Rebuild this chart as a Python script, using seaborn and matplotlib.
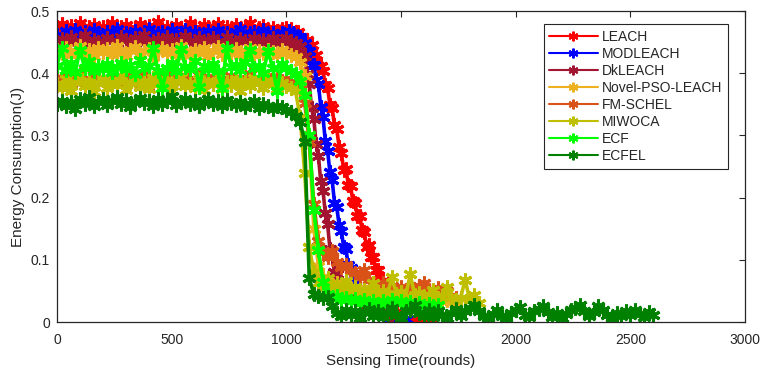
import numpy as np
import pandas as pd
import matplotlib
matplotlib.use("Agg")
import matplotlib.pyplot as plt
import seaborn as sns

# ---------------- data (energy in mJ) ----------------
# plateau: every 20 rounds from round 0; drop: every 10 rounds from round 1000;
# tail: every 20 rounds from round 1500 (for series that have a drop segment)
series_names = ["LEACH", "MODLEACH", "DkLEACH", "Novel-PSO-LEACH",
                "FM-SCHEL", "MIWOCA", "ECF", "ECFEL"]
series_colors = ["#FF0000", "#0000FF", "#A2142F", "#EDB120",
                 "#D95319", "#BFBF00", "#00FF00", "#008000"]

leach_plateau = [473,479,468,476,470,481,467,474,478,466,475,471,480,469,474,477,465,472,479,470,
                 476,468,482,471,474,467,478,473,469,480,472,466,477,474,470,479,468,475,471,477,
                 469,474,480,466,473,476,470,472,468,471]
leach_drop = [472,463,471,459,464,467,454,458,446,453,442,445,428,430,411,411,403,381,377,349,
              344,316,310,282,272,245,246,221,218,195,191,170,171,148,145,121,124,104,104,83,
              83,64,66,49,49,30,28,15,13,5]
leach_tail = [6,4,3,5,3,4,3,4]

modleach_plateau = [462,458,468,463,470,457,466,461,469,464,459,467,462,471,458,465,463,468,460,466,
                    471,459,464,467,462,469,457,465,470,461,466,463,459,468,464,470,460,465,462,467,
                    471,458,464,466,461,469,463,465,460,464]
modleach_drop = [459,468,459,464,451,458,459,443,448,435,436,413,413,389,383,346,329,291,275,241,
                 228,192,185,156,147,120,117,92,87,65,66,51,52,37,39,28,32,22,25,17,
                 21,14,17,10,13,8,11,6,9,5]
modleach_tail = [6,5]

dkleach_plateau = [447,455,443,458,449,452,461,446,454,450,444,457,451,448,459,453,445,456,450,462,
                   447,452,455,443,458,449,454,446,460,451,448,456,444,453,457,450,446,459,452,448,
                   455,451,443,457,450,453,447,456,449,452]
dkleach_drop = [456,444,451,439,449,438,443,426,427,398,383,344,326,286,267,226,211,175,157,118,
                105,80,77,61,62,50,55,44,50,40,46,37,42,34,37,29,33,26,29,22,
                24,18,20,14,16,11,11]
dkleach_tail = []

novel_pso = [438,432,441,429,436,444,431,437,427,440,434,439,430,443,433,428,437,442,431,436,
             439,426,435,441,432,437,429,444,434,430,438,433,440,428,436,442,431,437,433,439,
             430,435,441,429,436,432,438,434,430,437,
             433,430,426,418,395,290,150,90,72,64,58,63,55,60,52,57,50,55,48,53,
             46,50,44,48,42,45,40,43,38,41,37,40,35,38,34,36,32,30]
fm_schel = [392,387,396,383,394,399,386,391,397,385,393,388,400,384,392,396,387,394,382,398,
            390,385,395,389,401,386,393,388,396,384,391,397,387,394,383,399,390,386,395,388,
            393,385,398,389,392,387,395,384,391,388,
            390,386,382,374,352,290,190,130,112,105,114,96,88,92,82,78,72,84,68,62,
            58,62,52,58,50,56,48,54,50,58,62,52,48,55,45,50,42,38]
miwoca = [383,377,391,372,386,395,379,388,370,384,392,376,389,381,396,373,385,390,378,387,
          374,393,382,376,389,371,386,394,380,384,377,391,373,388,383,396,375,386,381,390,
          372,387,379,393,384,376,389,382,374,385,
          380,376,372,330,240,120,80,62,55,70,52,60,48,66,50,57,45,52,47,62,
          44,50,42,72,45,48,40,77,43,46,40,44,52,38,42,57,40,36,39,68,35,44,30]
ecf = [412,440,405,416,402,438,409,420,403,411,407,415,402,410,417,406,413,399,421,408,
       412,440,404,377,409,416,403,439,410,406,419,378,412,407,415,404,376,441,410,413,
       405,418,437,408,412,401,436,409,372,414,
       408,404,398,388,365,300,180,115,65,45,38,42,35,39,33,37,31,35,30,34,
       29,33,28,35,30,33,28,32,27,30,26,29,25,27]
ecfel = [350,356,348,353,343,358,351,361,347,354,359,349,355,362,350,357,346,353,360,352,
         356,348,358,351,355,363,349,354,358,350,356,347,353,359,351,355,348,357,352,349,
         354,346,351,356,344,350,347,342,348,345,
         341,338,332,322,290,70,45,42,38,40,25,15,
         9,20,12,18,7,16,21,10,17,8,14,22,11,6,18,20,27,15,9,19,
         8,17,12,6,15,21,10,18,23,28,17,9,6,13,19,10,7,15,20,24,
         12,8,17,21,26,16,8,15,7,13,19,22,28,17,10,16,25,20,12,7,
         15,9,18,11,19,13,8,16,12]

series_segments = [
    [leach_plateau, leach_drop, leach_tail],
    [modleach_plateau, modleach_drop, modleach_tail],
    [dkleach_plateau, dkleach_drop, dkleach_tail],
    [novel_pso, [], []],
    [fm_schel, [], []],
    [miwoca, [], []],
    [ecf, [], []],
    [ecfel, [], []],
]


def build(segs):
    plateau, drop, tail = segs
    r = [np.arange(len(plateau)) * 20]
    v = [plateau]
    if drop:
        r.append(1000 + np.arange(len(drop)) * 10)
        v.append(drop)
    if tail:
        r.append(1500 + np.arange(len(tail)) * 20)
        v.append(tail)
    return np.concatenate(r), np.concatenate(v) / 1000.0


frames = []
for name, segs in zip(series_names, series_segments):
    rr, vv = build(segs)
    frames.append(pd.DataFrame({"rounds": rr, "energy": vv, "series": name}))
df = pd.concat(frames, ignore_index=True)

# ---------------- plot ----------------
sns.set_theme(style="white")
plt.rcParams["font.family"] = ["Liberation Sans", "DejaVu Sans"]

fig = plt.figure(figsize=(7.63, 3.73), dpi=100)
ax = fig.add_axes([0.0747, 0.1367, 0.9017, 0.8338])

ASTERISK = (6, 2, 0)
for name, color in zip(series_names, series_colors):
    sub = df[df["series"] == name]
    sns.lineplot(data=sub, x="rounds", y="energy", ax=ax, color=color,
                 marker=ASTERISK, markersize=10, markeredgewidth=2.2,
                 markeredgecolor=color, linewidth=2.6, estimator=None,
                 sort=False, legend=False)

ax.set_xlim(0, 3000)
ax.set_ylim(0, 0.5)
ax.set_xticks([0, 500, 1000, 1500, 2000, 2500, 3000])
ax.set_yticks([0, 0.1, 0.2, 0.3, 0.4, 0.5])
ax.set_yticklabels(["0", "0.1", "0.2", "0.3", "0.4", "0.5"])
ax.set_xlabel("Sensing Time(rounds)", fontsize=11, color="#262626", labelpad=5)
ax.set_ylabel("Energy Consumption(J)", fontsize=11, color="#262626", labelpad=4)

ax.tick_params(axis="both", direction="in", length=4, width=0.8, colors="#262626",
               labelsize=10, top=True, right=True, labeltop=False, labelright=False)
ax.tick_params(axis="x", pad=8)
ax.tick_params(axis="y", pad=5)
for sp in ax.spines.values():
    sp.set_visible(True)
    sp.set_color("#262626")
    sp.set_linewidth(0.9)

handles = [plt.Line2D([0], [0], color=c, linewidth=1.5, marker=ASTERISK, markersize=7,
                      markeredgewidth=1.5, markeredgecolor=c)
           for c in series_colors]
leg = ax.legend(handles, series_names, loc="upper right",
                bbox_to_anchor=(0.975, 0.958), fontsize=10, frameon=True,
                fancybox=False, edgecolor="#262626", framealpha=1,
                handlelength=3.5, handletextpad=0.3, labelspacing=0.22,
                borderpad=0.4, numpoints=1, borderaxespad=0)
leg.get_frame().set_linewidth(0.8)

fig.savefig("out.png", dpi=100)
